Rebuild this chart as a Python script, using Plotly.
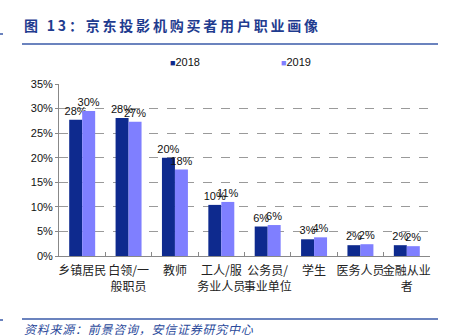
import plotly.graph_objects as go

# Occupation categories (line breaks follow the printed axis labels)
categories = ["乡镇居民", "白领/一<br>般职员", "教师", "工人/服<br>务业人员",
              "公务员/<br>事业单位", "学生", "医务人员", "金融从业<br>者"]
share_2018 = [27.7, 28.1, 20.0, 10.4, 6.0, 3.4, 2.2, 2.2]
share_2019 = [29.5, 27.3, 17.6, 11.0, 6.3, 3.8, 2.4, 2.0]
series_names = ["2018", "2019"]
y_ticks = [0, 5, 10, 15, 20, 25, 30, 35]

title_text = "图 13：京东投影机购买者用户职业画像"
source_text = "资料来源：前景咨询，安信证券研究中心"

navy = "#0E2A8E"
lavender = "#7F7FFF"
blue_text = "#2B4A9B"
cjk = "Noto Sans CJK SC"


def spaced(s, gap):
    return gap.join(s)


fig = go.Figure()
for name, vals, color in [(series_names[0], share_2018, navy),
                          (series_names[1], share_2019, lavender)]:
    fig.add_trace(go.Bar(
        name=name, x=categories, y=vals,
        marker=dict(color=color, line=dict(width=0)),
        text=vals, texttemplate="%{y:.0f}%", textposition="outside",
        textfont=dict(family="Arial", size=11, color="#111111"),
        constraintext="none", cliponaxis=False, showlegend=False,
    ))

fig.update_layout(
    width=450, height=336,
    margin=dict(l=59, r=20, t=84, b=80),
    paper_bgcolor="white", plot_bgcolor="white",
    barmode="group", bargap=0.44, bargroupgap=0,
    showlegend=False,
    xaxis=dict(
        type="category", tickson="boundaries", ticks="inside", ticklen=4,
        tickcolor="#888888", showline=True, linecolor="#888888", linewidth=1,
        showgrid=False, tickangle=0, ticklabelstandoff=4,
        tickfont=dict(family=cjk, size=12, color="#222222"),
    ),
    yaxis=dict(
        range=[0, 35], tickvals=y_ticks, ticktext=[f"{v}%" for v in y_ticks],
        ticks="outside", ticklen=3, tickcolor="#888888",
        showline=True, linecolor="#888888", linewidth=1,
        showgrid=True, gridcolor="#9a9a9a", griddash="dash", gridwidth=1,
        zeroline=False,
        tickfont=dict(family="Arial", size=11, color="#111111"),
    ),
)

# Legend entries drawn as coloured squares with year labels
for name, color, xpos in [(series_names[0], navy, 168), (series_names[1], lavender, 279)]:
    fig.add_annotation(
        xref="paper", yref="paper",
        x=(xpos - 59) / (450 - 59 - 20), y=(336 - 80 - 62) / (336 - 84 - 80),
        xanchor="left", yanchor="middle", showarrow=False,
        text=f"<span style='color:{color};font-size:9px'>■</span>{name}",
        font=dict(family="Arial", size=11, color="#111111"),
    )

# Header and footer
fig.add_annotation(
    xref="paper", yref="paper", x=-(59 - 22) / 371, y=1 + (84 - 25) / 172,
    xanchor="left", yanchor="middle", showarrow=False,
    text="<b>" + spaced(title_text, "\u2009") + "</b>",
    font=dict(family=cjk, size=14, color="#1F3C8F"),
)
fig.add_annotation(
    xref="paper", yref="paper", x=-(59 - 22) / 371, y=-(328 - 256) / 172,
    xanchor="left", yanchor="middle", showarrow=False,
    text="<i>" + spaced(source_text, "\u200a") + "</i>",
    font=dict(family=cjk, size=12, color=blue_text),
)
for y in (44, 319):
    fig.add_shape(type="line", xref="paper", yref="paper",
                  x0=-(59 - 22) / 371, x1=(438 - 59) / 371,
                  y0=(256 - y) / 172, y1=(256 - y) / 172,
                  line=dict(color="#3A5AA8", width=1.5))
for y in (34, 320):
    fig.add_shape(type="line", xref="paper", yref="paper",
                  x0=-59 / 371, x1=-56 / 371,
                  y0=(256 - y) / 172, y1=(256 - y) / 172,
                  line=dict(color="#3A5AA8", width=1.5))

fig.write_html("out.html")
